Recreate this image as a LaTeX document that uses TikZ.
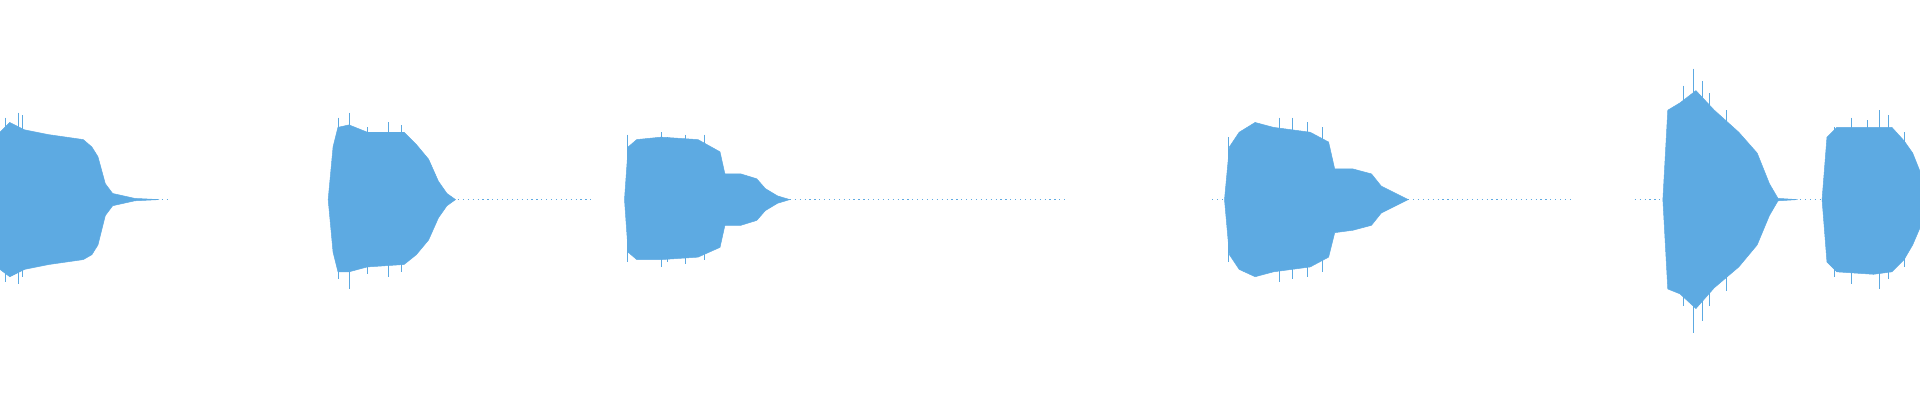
\documentclass[tikz,border=0pt]{standalone}
\definecolor{wave}{HTML}{5DAAE2}
\begin{document}
\begin{tikzpicture}[x=1pt,y=-1pt,wf/.style={fill=wave,draw=wave,line width=0.4pt},sp/.style={draw=wave,line width=0.5pt},cl/.style={draw=wave,line width=0.6pt,dash pattern=on 1pt off 3pt}]
\useasboundingbox (0,0) rectangle (1568,327);
% center line bits
\draw[cl] (88,163) -- (140,163);
\draw[cl] (370,163) -- (485,163);
\draw[cl] (645,163) -- (870,163);
\draw[cl] (990,163) -- (1000,163);
\draw[cl] (1150,163) -- (1285,163);
\draw[cl] (1335,163) -- (1358,163);
\draw[cl] (1450,163) -- (1488,163);
% blob 1
\fill[wf] (0,108) -- (8,100) -- (20,106) -- (40,110) -- (68,114) -- (75,120) -- (80,128) -- (86,150) -- (92,158) -- (110,162) -- (130,163) -- (110,164) -- (92,168) -- (86,176) -- (80,200) -- (75,208) -- (68,212) -- (40,216) -- (20,220) -- (8,226) -- (0,220) -- cycle;
% blob 2
\fill[wf] (268,163) -- (272,120) -- (276,104) -- (285,102) -- (300,108) -- (330,108) -- (340,118) -- (350,130) -- (358,148) -- (365,158) -- (372,163) -- (365,168) -- (358,178) -- (350,196) -- (340,208) -- (330,216) -- (300,218) -- (285,222) -- (276,222) -- (272,206) -- cycle;
% blob 3
\fill[wf] (510,163) -- (513,120) -- (520,114) -- (540,112) -- (570,114) -- (588,124) -- (592,142) -- (605,142) -- (618,146) -- (625,154) -- (635,160) -- (645,163) -- (635,166) -- (625,172) -- (618,180) -- (605,184) -- (592,184) -- (588,202) -- (570,210) -- (540,212) -- (520,212) -- (513,206) -- cycle;
% blob 4
\fill[wf] (1000,163) -- (1004,120) -- (1012,108) -- (1025,100) -- (1040,104) -- (1070,108) -- (1085,116) -- (1090,138) -- (1105,138) -- (1120,142) -- (1128,152) -- (1140,158) -- (1150,163) -- (1140,168) -- (1128,174) -- (1120,184) -- (1105,188) -- (1090,190) -- (1085,210) -- (1070,218) -- (1040,222) -- (1025,226) -- (1012,220) -- (1004,208) -- cycle;
% blob 5
\fill[wf] (1358,163) -- (1362,90) -- (1372,84) -- (1385,74) -- (1400,90) -- (1420,108) -- (1435,125) -- (1445,150) -- (1452,162) -- (1468,163) -- (1452,164) -- (1445,176) -- (1435,200) -- (1420,218) -- (1400,235) -- (1385,252) -- (1372,240) -- (1362,236) -- cycle;
% blob 6
\fill[wf] (1488,163) -- (1492,112) -- (1500,104) -- (1530,104) -- (1545,104) -- (1555,115) -- (1562,125) -- (1568,140) -- (1568,186) -- (1562,200) -- (1555,212) -- (1545,222) -- (1530,224) -- (1500,222) -- (1492,214) -- cycle;
% spikes
\foreach \x/\a/\b in {4/96/230,15/92/232,18/94/226,
  276/96/228,285/92/236,300/104/224,317/100/226,328/102/222,
  512/110/214,540/108/218,545/112/214,560/110/216,575/110/212,
  1003/112/214,1045/96/230,1055/96/228,1068/100/226,1080/104/222,
  1375/70/250,1383/56/272,1390/66/262,1396/76/250,1410/90/238,
  1498/104/226,1512/96/232,1525/98/224,1535/90/236,1542/94/228,1555/108/218}
  \draw[sp] (\x,\a) -- (\x,\b);
\end{tikzpicture}
\end{document}
